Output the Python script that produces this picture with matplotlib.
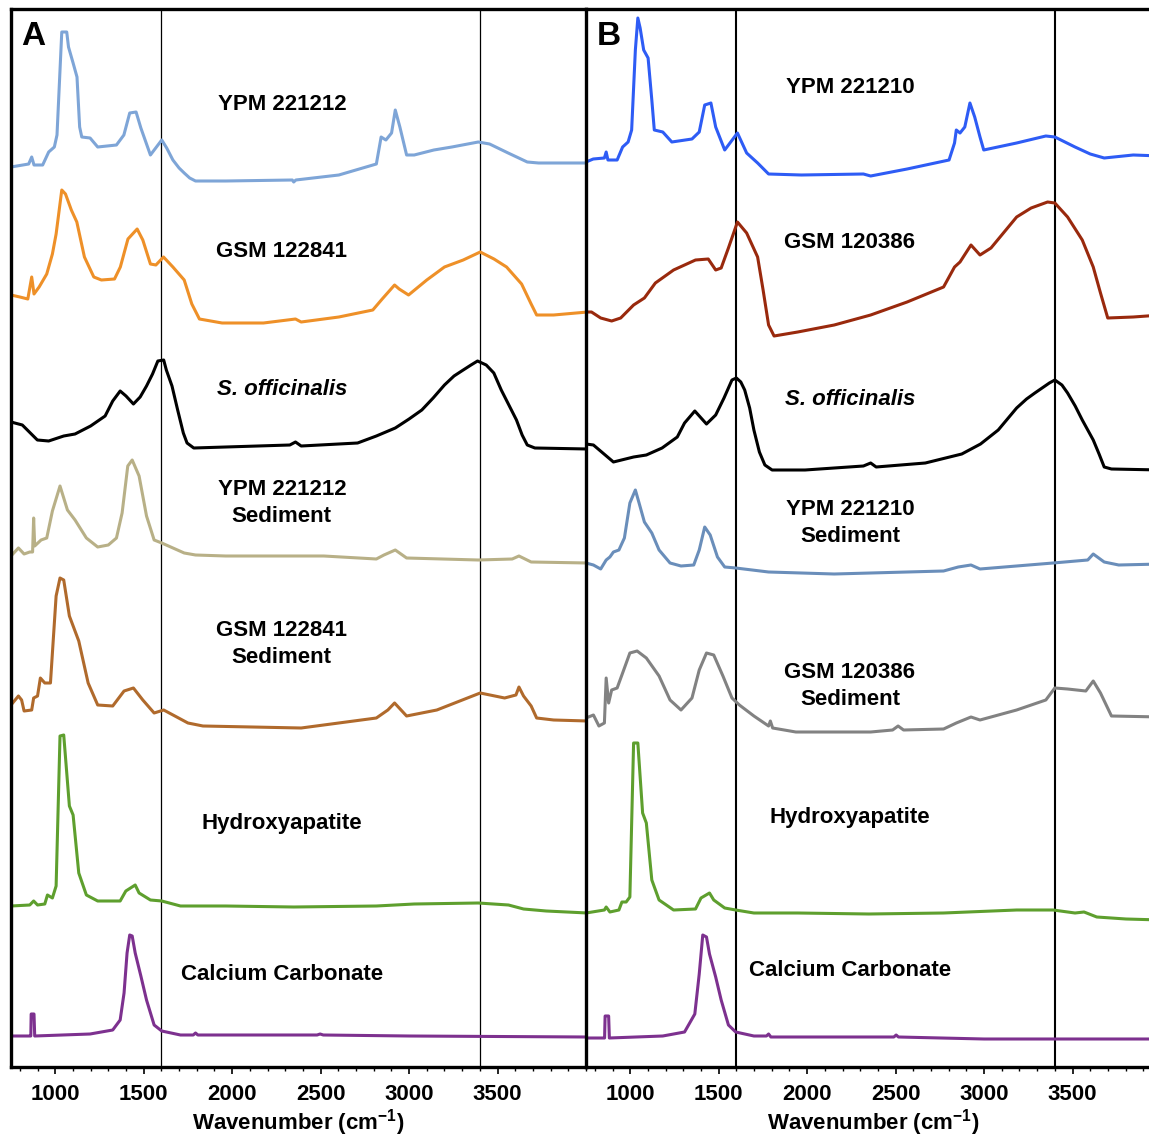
import numpy as np
import matplotlib
matplotlib.use("Agg")
import matplotlib.pyplot as plt
from matplotlib.ticker import MultipleLocator

plt.rcParams['font.family'] = ['Liberation Sans', 'DejaVu Sans']
plt.rcParams['font.weight'] = 'bold'
plt.rcParams['mathtext.fontset'] = 'custom'
plt.rcParams['mathtext.rm'] = 'Liberation Sans:bold'
plt.rcParams['mathtext.bf'] = 'Liberation Sans:bold'
plt.rcParams['mathtext.it'] = 'Liberation Sans:bold:italic'

# ---- panel A spectra (wavenumber, absorbance in arbitrary units) ----
ypm221212_wn = [750, 850, 867, 880, 929, 963, 995, 1010, 1037, 1065, 1075, 1101, 1123, 1138, 1150, 1197,
                1240, 1346, 1388, 1421, 1457, 1484, 1538, 1602, 1630, 1665, 1700, 1729, 1760, 1793, 1964,
                2340, 2348, 2360, 2603, 2815, 2842, 2869, 2901, 2922, 2948, 2986, 3029, 3140, 3242, 3391,
                3455, 3560, 3668, 3732, 4009]
ypm221212_abs = [0.14, 0.17, 0.24, 0.16, 0.16, 0.29, 0.34, 0.46, 1.49, 1.49, 1.34, 1.18, 1.04, 0.54, 0.44, 0.43,
                 0.34, 0.36, 0.46, 0.68, 0.69, 0.53, 0.26, 0.41, 0.33, 0.21, 0.13, 0.08, 0.03, 0.0, 0.0,
                 0.01, -0.01, 0.01, 0.06, 0.17, 0.44, 0.41, 0.48, 0.71, 0.54, 0.26, 0.26, 0.31, 0.34, 0.39,
                 0.37, 0.28, 0.19, 0.18, 0.18]

gsm122841_wn = [750, 800, 845, 867, 880, 909, 952, 984, 1005, 1037, 1058, 1091, 1122, 1165, 1218, 1261, 1335,
                1368, 1411, 1463, 1495, 1538, 1569, 1612, 1665, 1729, 1772, 1815, 1943, 2177, 2358, 2390,
                2603, 2795, 2848, 2918, 2944, 2997, 3100, 3200, 3306, 3402, 3480, 3551, 3636, 3690, 3721,
                3817, 4009]
gsm122841_abs = [0.28, 0.26, 0.24, 0.46, 0.29, 0.36, 0.49, 0.69, 0.89, 1.33, 1.29, 1.13, 1.01, 0.66, 0.46, 0.43,
                 0.44, 0.56, 0.84, 0.94, 0.83, 0.59, 0.58, 0.66, 0.56, 0.43, 0.19, 0.04, 0.0, 0.0, 0.04, 0.01,
                 0.06, 0.13, 0.24, 0.38, 0.34, 0.28, 0.43, 0.56, 0.63, 0.71, 0.64, 0.56, 0.39, 0.19, 0.08,
                 0.08, 0.11]

sepia_a_wn = [750, 814, 899, 963, 1048, 1112, 1200, 1282, 1325, 1367, 1400, 1442, 1480, 1516, 1550, 1580, 1613,
              1628, 1660, 1692, 1724, 1745, 1783, 1964, 2326, 2358, 2390, 2709, 2815, 2922, 3000, 3072, 3136,
              3200, 3254, 3306, 3350, 3387, 3436, 3479, 3521, 3564, 3607, 3639, 3668, 3711, 4009]
sepia_a_abs = [0.26, 0.23, 0.08, 0.07, 0.12, 0.14, 0.22, 0.32, 0.47, 0.57, 0.52, 0.44, 0.51, 0.62, 0.74, 0.87,
               0.88, 0.78, 0.62, 0.38, 0.15, 0.05, 0.0, 0.01, 0.03, 0.06, 0.02, 0.05, 0.12, 0.2, 0.29, 0.38,
               0.5, 0.63, 0.72, 0.78, 0.83, 0.87, 0.83, 0.75, 0.58, 0.43, 0.28, 0.13, 0.03, 0.0, -0.01]

ypm221212_sed_wn = [750, 792, 824, 856, 872, 878, 884, 920, 952, 984, 1027, 1069, 1112, 1176, 1240, 1300, 1346,
                    1378, 1410, 1435, 1474, 1516, 1559, 1602, 1729, 1793, 1964, 2348, 2518, 2815, 2858,
                    2922, 2986, 3391, 3583, 3621, 3690, 4009]
ypm221212_sed_abs = [0.07, 0.15, 0.09, 0.11, 0.11, 0.45, 0.17, 0.23, 0.25, 0.52, 0.77, 0.53, 0.43, 0.25, 0.16,
                     0.18, 0.25, 0.5, 0.97, 1.03, 0.87, 0.47, 0.23, 0.2, 0.1, 0.08, 0.07, 0.07, 0.07, 0.04, 0.08,
                     0.13, 0.05, 0.03, 0.04, 0.07, 0.01, 0.0]

gsm122841_sed_wn = [750, 792, 810, 824, 867, 878, 900, 916, 941, 973, 1005, 1027, 1048, 1080, 1133, 1186, 1240,
                    1325, 1389, 1442, 1495, 1559, 1613, 1750, 1835, 2390, 2815, 2880, 2918, 2986, 3157, 3402,
                    3540, 3604, 3621, 3647, 3690, 3721, 3817, 4009]
gsm122841_sed_abs = [0.23, 0.32, 0.28, 0.17, 0.18, 0.3, 0.32, 0.5, 0.45, 0.45, 1.32, 1.5, 1.48, 1.12, 0.87, 0.45,
                     0.23, 0.22, 0.37, 0.4, 0.28, 0.15, 0.18, 0.05, 0.02, 0.0, 0.1, 0.18, 0.25, 0.12, 0.18, 0.35,
                     0.3, 0.33, 0.41, 0.32, 0.22, 0.1, 0.08, 0.07]

hap_a_wn = [750, 856, 878, 900, 941, 956, 984, 1005, 1027, 1048, 1080, 1101, 1133, 1176, 1240, 1367, 1399,
            1452, 1474, 1538, 1602, 1708, 1964, 2348, 2815, 3029, 3391, 3562, 3647, 3775, 4009]
hap_a_abs = [0.07, 0.08, 0.12, 0.08, 0.09, 0.18, 0.15, 0.27, 1.77, 1.78, 1.07, 0.98, 0.4, 0.18, 0.12, 0.12,
             0.22, 0.28, 0.2, 0.13, 0.12, 0.07, 0.07, 0.06, 0.07, 0.09, 0.1, 0.08, 0.04, 0.02, 0.0]

caco3_a_wn = [750, 856, 862, 864, 880, 884, 1197, 1325, 1367, 1389, 1406, 1421, 1435, 1452, 1484, 1516, 1559,
              1602, 1708, 1780, 1793, 1806, 2480, 2497, 2515, 3000, 4009]
caco3_a_abs = [0.01, 0.01, 0.01, 0.23, 0.23, 0.01, 0.03, 0.07, 0.17, 0.44, 0.84, 1.02, 1.01, 0.84, 0.61, 0.37,
               0.12, 0.06, 0.02, 0.02, 0.04, 0.02, 0.02, 0.03, 0.02, 0.01, 0.0]

# ---- panel B spectra ----
ypm221210_wn = [750, 791, 854, 864, 874, 926, 957, 988, 1008, 1029, 1043, 1056, 1076, 1101, 1122, 1136, 1184,
                1235, 1349, 1390, 1421, 1456, 1483, 1534, 1606, 1658, 1720, 1782, 1967, 2318, 2359, 2565,
                2802, 2833, 2843, 2864, 2891, 2920, 2947, 2977, 2998, 3184, 3349, 3400, 3514, 3600, 3679,
                3843, 4000]
ypm221210_abs = [0.14, 0.17, 0.18, 0.24, 0.16, 0.16, 0.29, 0.34, 0.46, 1.26, 1.58, 1.48, 1.26, 1.18, 0.76, 0.46,
                 0.44, 0.34, 0.37, 0.44, 0.71, 0.73, 0.49, 0.26, 0.43, 0.23, 0.13, 0.02, 0.01, 0.02, 0.0, 0.07,
                 0.16, 0.33, 0.46, 0.43, 0.49, 0.73, 0.59, 0.39, 0.26, 0.33, 0.4, 0.39, 0.29, 0.22, 0.18,
                 0.21, 0.2]

gsm120386_wn = [750, 781, 833, 895, 946, 1019, 1080, 1142, 1245, 1307, 1369, 1441, 1483, 1514, 1555, 1606,
                1658, 1720, 1751, 1782, 1813, 1947, 2153, 2359, 2565, 2771, 2833, 2864, 2926, 2977, 3039,
                3184, 3266, 3359, 3400, 3472, 3555, 3617, 3658, 3699, 3843, 4000]
gsm120386_abs = [0.24, 0.24, 0.18, 0.15, 0.18, 0.31, 0.38, 0.53, 0.66, 0.71, 0.76, 0.77, 0.66, 0.68, 0.88, 1.14,
                 1.03, 0.79, 0.46, 0.11, 0.0, 0.04, 0.11, 0.21, 0.34, 0.49, 0.69, 0.74, 0.91, 0.81, 0.88,
                 1.19, 1.28, 1.34, 1.33, 1.19, 0.96, 0.69, 0.43, 0.18, 0.19, 0.21]

sepia_b_wn = [750, 792, 905, 1019, 1091, 1180, 1266, 1307, 1365, 1431, 1483, 1530, 1575, 1600, 1625, 1647, 1675,
              1699, 1730, 1761, 1802, 1988, 2318, 2359, 2390, 2668, 2874, 2980, 3080, 3184, 3240, 3287, 3369,
              3400, 3440, 3472, 3515, 3555, 3617, 3650, 3679, 3720, 4000]
sepia_b_abs = [0.26, 0.25, 0.08, 0.13, 0.15, 0.22, 0.33, 0.47, 0.59, 0.46, 0.55, 0.72, 0.9, 0.92, 0.88, 0.8,
               0.62, 0.4, 0.18, 0.05, 0.0, 0.0, 0.04, 0.07, 0.03, 0.07, 0.16, 0.26, 0.4, 0.62, 0.71, 0.77,
               0.87, 0.9, 0.85, 0.77, 0.64, 0.5, 0.3, 0.16, 0.03, 0.01, 0.0]

ypm221210_sed_wn = [750, 792, 833, 864, 885, 905, 936, 967, 998, 1029, 1050, 1080, 1122, 1163, 1225, 1287, 1359,
                    1390, 1421, 1452, 1493, 1534, 1596, 1782, 2153, 2359, 2771, 2854, 2926, 2977, 3390, 3586,
                    3617, 3679, 3761, 4000]
ypm221210_sed_abs = [0.11, 0.09, 0.05, 0.14, 0.17, 0.22, 0.24, 0.36, 0.71, 0.84, 0.71, 0.52, 0.41, 0.24, 0.11,
                     0.08, 0.09, 0.24, 0.47, 0.39, 0.17, 0.07, 0.06, 0.02, 0.0, 0.01, 0.03, 0.07, 0.09, 0.05,
                     0.11, 0.14, 0.2, 0.12, 0.09, 0.1]

gsm120386_sed_wn = [750, 792, 823, 854, 864, 878, 895, 926, 957, 998, 1039, 1091, 1163, 1225, 1287, 1349, 1390,
                    1431, 1472, 1524, 1575, 1617, 1699, 1782, 1792, 1805, 1936, 2359, 2483, 2514, 2545, 2771,
                    2843, 2926, 2977, 3184, 3349, 3400, 3472, 3575, 3617, 3658, 3720, 4000]
gsm120386_sed_abs = [0.14, 0.17, 0.06, 0.09, 0.54, 0.29, 0.42, 0.44, 0.59, 0.79, 0.81, 0.74, 0.56, 0.32, 0.22,
                     0.34, 0.62, 0.79, 0.77, 0.56, 0.34, 0.27, 0.16, 0.06, 0.11, 0.04, 0.0, 0.0, 0.02, 0.06,
                     0.02, 0.03, 0.09, 0.15, 0.12, 0.22, 0.32, 0.44, 0.43, 0.41, 0.51, 0.39, 0.16, 0.15]

hap_b_wn = [750, 854, 864, 885, 936, 953, 977, 998, 1019, 1043, 1070, 1091, 1122, 1163, 1245, 1369, 1400,
            1448, 1472, 1534, 1596, 1699, 1947, 2349, 2771, 3184, 3390, 3514, 3565, 3637, 3802, 4000]
hap_b_abs = [0.07, 0.1, 0.13, 0.08, 0.1, 0.18, 0.18, 0.23, 1.77, 1.77, 1.07, 0.97, 0.4, 0.2, 0.1, 0.11, 0.22,
             0.27, 0.2, 0.12, 0.1, 0.07, 0.07, 0.06, 0.07, 0.1, 0.1, 0.07, 0.08, 0.03, 0.01, 0.0]

caco3_b_wn = [750, 849, 855, 858, 878, 882, 1184, 1307, 1365, 1390, 1410, 1431, 1448, 1483, 1514, 1555, 1596,
              1699, 1770, 1782, 1795, 2490, 2503, 2516, 3000, 4000]
caco3_b_abs = [0.01, 0.01, 0.01, 0.23, 0.23, 0.01, 0.03, 0.07, 0.25, 0.65, 1.04, 1.02, 0.85, 0.62, 0.39, 0.14,
               0.07, 0.03, 0.03, 0.05, 0.02, 0.02, 0.04, 0.02, 0.0, 0.0]

# labels, colours, vertical offsets (stacking)
labels_a = ["YPM 221212", "GSM 122841", "S. officinalis", "YPM 221212\nSediment",
            "GSM 122841\nSediment", "Hydroxyapatite", "Calcium Carbonate"]
labels_b = ["YPM 221210", "GSM 120386", "S. officinalis", "YPM 221210\nSediment",
            "GSM 120386\nSediment", "Hydroxyapatite", "Calcium Carbonate"]
colors_a = ["#7ea5d7", "#ee9028", "#000000", "#b8b087", "#b06a2c", "#5e9f2e", "#7d318f"]
colors_b = ["#2e5cf5", "#99290d", "#000000", "#6a8eba", "#828282", "#5e9f2e", "#7d318f"]
offsets_a = [8.86, 7.44, 6.19, 5.04, 3.39, 1.54, 0.30]
offsets_b = [8.91, 7.31, 5.97, 4.93, 3.35, 1.47, 0.28]
label_y_a = [0.910, 0.771, 0.640, 0.533, 0.400, 0.230, 0.087]
label_y_b = [0.926, 0.779, 0.631, 0.514, 0.360, 0.236, 0.091]

spectra_a = [(ypm221212_wn, ypm221212_abs), (gsm122841_wn, gsm122841_abs), (sepia_a_wn, sepia_a_abs),
             (ypm221212_sed_wn, ypm221212_sed_abs), (gsm122841_sed_wn, gsm122841_sed_abs),
             (hap_a_wn, hap_a_abs), (caco3_a_wn, caco3_a_abs)]
spectra_b = [(ypm221210_wn, ypm221210_abs), (gsm120386_wn, gsm120386_abs), (sepia_b_wn, sepia_b_abs),
             (ypm221210_sed_wn, ypm221210_sed_abs), (gsm120386_sed_wn, gsm120386_sed_abs),
             (hap_b_wn, hap_b_abs), (caco3_b_wn, caco3_b_abs)]

W, H = 1149, 1137
fig = plt.figure(figsize=(W / 100, H / 100), dpi=100)
ax_a = fig.add_axes([11 / W, 70 / H, 575 / W, 1058 / H])
ax_b = fig.add_axes([586 / W, 70 / H, 575 / W, 1058 / H])


def draw_panel(ax, spectra, offsets, colors, labels, label_y, label_x, letter, vlw):
    for (wn, ab), off, c in zip(spectra, offsets, colors):
        ax.plot(wn, np.array(ab) + off, color=c, lw=2.2)
    for v in (1600, 3400):
        ax.axvline(v, color='black', lw=vlw, zorder=0)
    for lab, yy in zip(labels, label_y):
        style = 'italic' if lab.startswith('S.') else 'normal'
        ax.text(label_x, yy, lab, transform=ax.transAxes, ha='center', va='center',
                fontsize=16, fontweight='bold', fontstyle=style, linespacing=1.4)
    ax.text(0.018, 0.974, letter, transform=ax.transAxes, ha='left', va='center',
            fontsize=24, fontweight='bold')
    ax.set_xlim(750, 4000)
    ax.set_ylim(0, 10.58)
    ax.set_yticks([])
    ax.xaxis.set_minor_locator(MultipleLocator(100))
    ax.set_xticks([1000, 1500, 2000, 2500, 3000, 3500])
    ax.tick_params(axis='x', which='major', length=5, width=1.2, pad=7, labelsize=16)
    ax.tick_params(axis='x', which='minor', length=3, width=1.0)
    for lbl in ax.get_xticklabels():
        lbl.set_fontweight('bold')
    ax.set_xlabel('Wavenumber (cm$^{-1}$)', fontsize=16, fontweight='bold', labelpad=2)
    for s in ax.spines.values():
        s.set_linewidth(2.4)


draw_panel(ax_a, spectra_a, offsets_a, colors_a, labels_a, label_y_a, 0.471, 'A', 0.9)
draw_panel(ax_b, spectra_b, offsets_b, colors_b, labels_b, label_y_b, 0.459, 'B', 1.5)
ax_a.spines['right'].set_visible(False)

fig.savefig('out.png', dpi=100)
